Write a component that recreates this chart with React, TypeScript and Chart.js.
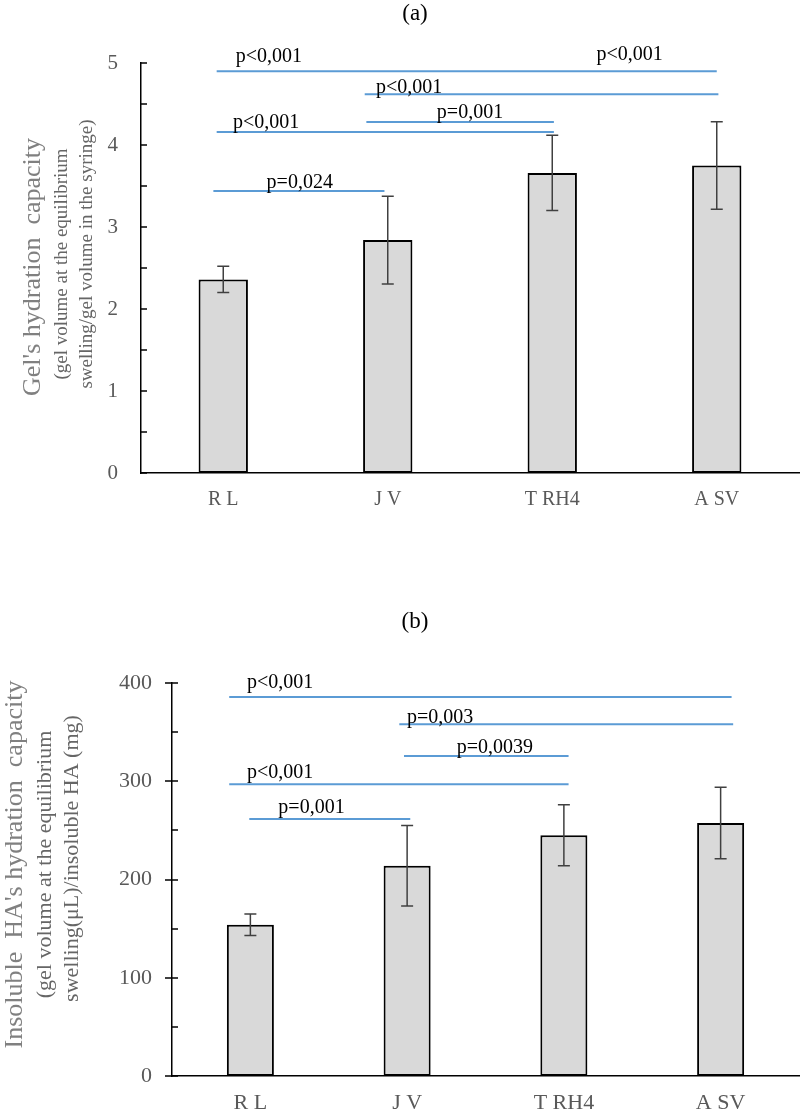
import React, { useEffect, useRef } from "react";
import { Chart, registerables } from "chart.js";

Chart.register(...registerables);

const categories = ["R L", "J V", "T RH4", "A SV"];

// Panel (a): gel's hydration capacity
const gelValues = [2.36, 2.84, 3.66, 3.75];
const gelErrors = [0.16, 0.535, 0.46, 0.535];
const gelTicks = [0, 1, 2, 3, 4, 5];
const gelSigFrom = [-0.04, 0.86, 0.87, -0.04, -0.06];
const gelSigTo = [3.0, 3.01, 2.01, 2.01, 0.98];
const gelSigLevel = [4.9, 4.62, 4.28, 4.16, 3.44];
const gelSigText = ["p<0,001", "p<0,001", "p<0,001", "p=0,001", "p<0,001", "p=0,024"];
const gelSigTextPos = [0.277, 2.47, 1.13, 1.5, 0.26, 0.465];
const gelSigTextLevel = [5.01, 5.04, 4.63, 4.33, 4.21, 3.48];
const gelYTitle = [
  "Gel's hydration  capacity",
  "(gel volume at the equilibrium",
  "swelling/gel volume in the syringe)",
];

// Panel (b): insoluble HA's hydration capacity
const haValues = [154, 214, 245, 257.5];
const haErrors = [11, 41, 31, 36.5];
const haTicks = [0, 100, 200, 300, 400];
const haSigFrom = [-0.135, 0.95, 0.98, -0.135, -0.007];
const haSigTo = [3.07, 3.08, 2.03, 2.03, 1.02];
const haSigLevel = [385.7, 358, 325.7, 297, 261.6];
const haSigText = ["p<0,001", "p=0,003", "p=0,0039", "p<0,001", "p=0,001"];
const haSigTextPos = [0.19, 1.21, 1.56, 0.19, 0.39];
const haSigTextLevel = [395, 359, 329, 303, 268];
const haYTitle = [
  "Insoluble  HA's hydration  capacity",
  "(gel volume at the equilibrium",
  "swelling(\u03bcL)/insoluble HA (mg)",
];

type Panel = {
  title: string;
  values: number[];
  errors: number[];
  majorTicks: number[];
  minorStep: number;
  sigFrom: number[];
  sigTo: number[];
  sigLevel: number[];
  sigText: string[];
  sigTextPos: number[];
  sigTextLevel: number[];
  yTitle: string[];
  width: number;
  height: number;
  padTop: number;
  axisWidth: number;
  axisHeight: number;
  tickFont: number;
  xFont: number;
  xPad: number;
  yPad: number;
  outTick: number;
  titleY: number;
  yTitleX: number[];
  yTitleDy: number[];
  yTitleFont: number[];
};

const SERIF = '"Liberation Serif", "Times New Roman", serif';

function buildChart(canvas: HTMLCanvasElement, p: Panel) {
  const yMax = p.majorTicks[p.majorTicks.length - 1];
  const majorStep = p.majorTicks[1] - p.majorTicks[0];
  const overlay = {
    id: "overlay",
    afterDraw(chart: any) {
      const ctx = chart.ctx as CanvasRenderingContext2D;
      const xs = chart.scales.x;
      const ys = chart.scales.y;
      const area = chart.chartArea;
      ctx.save();
      // y-axis tick marks
      ctx.strokeStyle = "#000";
      ctx.lineWidth = 1.5;
      ys.ticks.forEach((t: any) => {
        const y = Math.round(ys.getPixelForValue(t.value));
        const major = Math.abs(t.value % majorStep) < 1e-9;
        ctx.beginPath();
        ctx.moveTo(area.left - (major ? p.outTick : 0), y);
        ctx.lineTo(area.left + 6, y);
        ctx.stroke();
      });
      // error bars
      ctx.strokeStyle = "#404040";
      ctx.lineWidth = 1.5;
      p.values.forEach((v, i) => {
        const x = xs.getPixelForValue(i);
        const yt = ys.getPixelForValue(v + p.errors[i]);
        const yb = ys.getPixelForValue(v - p.errors[i]);
        ctx.beginPath();
        ctx.moveTo(x, yt);
        ctx.lineTo(x, yb);
        ctx.moveTo(x - 6, yt);
        ctx.lineTo(x + 6, yt);
        ctx.moveTo(x - 6, yb);
        ctx.lineTo(x + 6, yb);
        ctx.stroke();
      });
      // significance lines
      ctx.strokeStyle = "#5b9bd5";
      ctx.lineWidth = 2;
      p.sigLevel.forEach((lv, i) => {
        const y = ys.getPixelForValue(lv);
        ctx.beginPath();
        ctx.moveTo(xs.getPixelForValue(p.sigFrom[i]), y);
        ctx.lineTo(xs.getPixelForValue(p.sigTo[i]), y);
        ctx.stroke();
      });
      ctx.fillStyle = "#000";
      ctx.font = `20px ${SERIF}`;
      ctx.textAlign = "center";
      ctx.textBaseline = "alphabetic";
      p.sigText.forEach((s, i) => {
        ctx.fillText(s, xs.getPixelForValue(p.sigTextPos[i]), ys.getPixelForValue(p.sigTextLevel[i]));
      });
      // panel title
      ctx.font = `23px ${SERIF}`;
      ctx.textBaseline = "middle";
      ctx.fillText(p.title, 415, p.titleY);
      // y-axis title
      const cy = (area.top + area.bottom) / 2;
      p.yTitle.forEach((s, i) => {
        ctx.save();
        ctx.translate(p.yTitleX[i], cy + p.yTitleDy[i]);
        ctx.rotate(-Math.PI / 2);
        ctx.font = `${p.yTitleFont[i]}px ${SERIF}`;
        ctx.fillStyle = i === 0 ? "#808080" : "#666666";
        ctx.textAlign = "center";
        ctx.textBaseline = "middle";
        ctx.fillText(s, 0, 0);
        ctx.restore();
      });
      ctx.restore();
    },
  };

  return new Chart(canvas, {
    type: "bar",
    data: {
      labels: categories,
      datasets: [
        {
          data: p.values,
          backgroundColor: "#d9d9d9",
          borderColor: "#000",
          borderWidth: 2,
          borderSkipped: false,
          barPercentage: 0.3,
          categoryPercentage: 1,
        },
      ],
    },
    options: {
      responsive: false,
      animation: false,
      events: [],
      layout: { padding: { top: p.padTop, right: 1, left: 0, bottom: 0 } },
      plugins: { legend: { display: false }, tooltip: { enabled: false }, title: { display: false } },
      scales: {
        x: {
          grid: { display: false, drawTicks: false },
          border: { display: true, color: "#000", width: 1.5 },
          ticks: {
            color: "#595959",
            font: { family: SERIF, size: p.xFont },
            padding: p.xPad,
            maxRotation: 0,
          },
          afterFit: (s: any) => {
            s.height = p.axisHeight;
          },
        },
        y: {
          min: 0,
          max: yMax,
          grid: { display: false, drawTicks: false },
          border: { display: true, color: "#000", width: 1.5 },
          ticks: {
            stepSize: p.minorStep,
            autoSkip: false,
            color: "#595959",
            font: { family: SERIF, size: p.tickFont },
            padding: p.yPad,
            callback: (v: any) => (p.majorTicks.includes(Number(v)) ? String(v) : ""),
          },
          afterFit: (s: any) => {
            s.width = p.axisWidth;
          },
        },
      },
    },
    plugins: [overlay],
  } as any);
}

const panelA: Panel = {
  title: "(a)",
  values: gelValues,
  errors: gelErrors,
  majorTicks: gelTicks,
  minorStep: 0.5,
  sigFrom: gelSigFrom,
  sigTo: gelSigTo,
  sigLevel: gelSigLevel,
  sigText: gelSigText,
  sigTextPos: gelSigTextPos,
  sigTextLevel: gelSigTextLevel,
  yTitle: gelYTitle,
  width: 800,
  height: 560,
  padTop: 63,
  axisWidth: 141,
  axisHeight: 87,
  tickFont: 21,
  xFont: 20,
  xPad: 15,
  yPad: 23,
  outTick: 0,
  titleY: 14,
  yTitleX: [33, 62, 87],
  yTitleDy: [-1, -4, -14],
  yTitleFont: [26, 19, 19],
};

const panelB: Panel = {
  title: "(b)",
  values: haValues,
  errors: haErrors,
  majorTicks: haTicks,
  minorStep: 50,
  sigFrom: haSigFrom,
  sigTo: haSigTo,
  sigLevel: haSigLevel,
  sigText: haSigText,
  sigTextPos: haSigTextPos,
  sigTextLevel: haSigTextLevel,
  yTitle: haYTitle,
  width: 800,
  height: 551,
  padTop: 123,
  axisWidth: 172,
  axisHeight: 35,
  tickFont: 22,
  xFont: 22,
  xPad: 14,
  yPad: 20,
  outTick: 7,
  titleY: 62,
  yTitleX: [15, 45, 72],
  yTitleDy: [-15, -15, -21],
  yTitleFont: [26, 22, 22],
};

function PanelChart({ panel }: { panel: Panel }) {
  const ref = useRef<HTMLCanvasElement | null>(null);
  useEffect(() => {
    if (!ref.current) return;
    const chart = buildChart(ref.current, panel);
    return () => chart.destroy();
  }, [panel]);
  return (
    <canvas
      ref={ref}
      width={panel.width}
      height={panel.height}
      style={{ display: "block", width: panel.width, height: panel.height }}
    />
  );
}

export default function App() {
  return (
    <div style={{ position: "absolute", left: 0, top: 0, width: 800, height: 1111, background: "#fff" }}>
      <PanelChart panel={panelA} />
      <PanelChart panel={panelB} />
    </div>
  );
}
